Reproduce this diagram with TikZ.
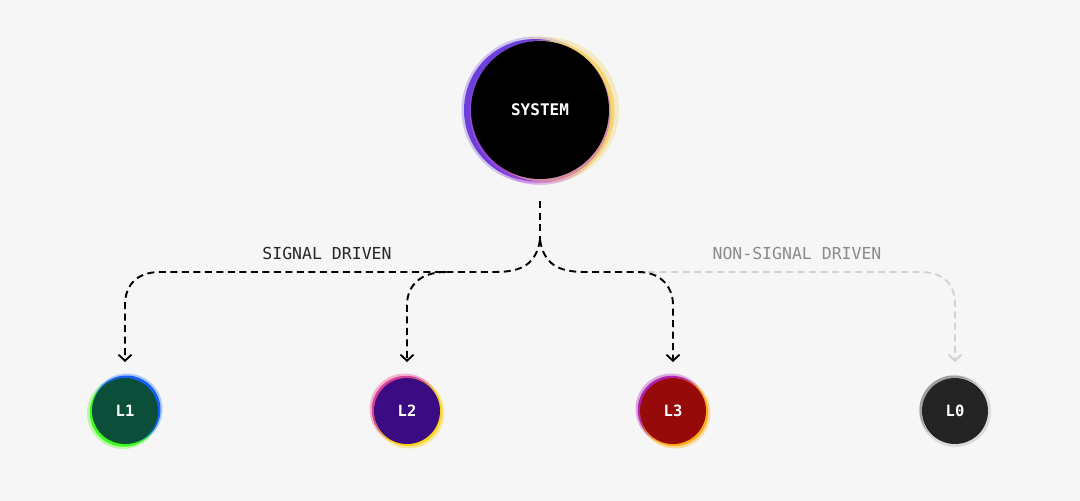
\documentclass[tikz,border=0pt]{standalone}
\usepackage{fontspec}
\usetikzlibrary{arrows.meta}
\newfontfamily\monof{DejaVu Sans Mono}
\definecolor{bg}{HTML}{F6F6F6}
\definecolor{lgreen}{HTML}{0B4F3A}
\definecolor{lpurple}{HTML}{3B0B84}
\definecolor{lred}{HTML}{960A0A}
\definecolor{lgray}{HTML}{242424}
\definecolor{linegray}{HTML}{D2D2D2}
\definecolor{labgray}{HTML}{8A8A8A}
\definecolor{rimviolet}{HTML}{5B2BD6}
\definecolor{rimyellow}{HTML}{F3D36A}
\definecolor{rimpink}{HTML}{C04FD8}
\tikzset{
  conn/.style={line width=1.9pt, dash pattern=on 7pt off 4.5pt, -{Straight Barb[length=6pt,width=13pt,line width=1.9pt]}},
  connplain/.style={line width=1.9pt, dash pattern=on 7pt off 4.5pt},
  level/.style={circle, minimum size=66pt, inner sep=0pt, text=white, font=\monof\bfseries\fontsize{15.5}{16}\selectfont},
  lab/.style={font=\monof\fontsize{16.5}{17}\selectfont},
}
\begin{document}
\begin{tikzpicture}[x=1pt,y=-1pt]
\fill[bg] (0,0) rectangle (1080,501);
\useasboundingbox (0,0) rectangle (1080,501);

% system rim (soft)
\fill[rimviolet, opacity=0.25] (535,110) circle (73.5);
\fill[rimyellow, opacity=0.35] (546,110) circle (73);
\fill[rimpink, opacity=0.35] (540,114) circle (71);
\fill[rimviolet, opacity=0.85] (535,110) circle (71);
\fill[rimyellow, opacity=0.9] (544,111) circle (70.5);
\fill[rimpink, opacity=0.5] (540,112) circle (70.5);
\node[circle, fill=black, minimum size=138pt, inner sep=0pt, text=white, font=\monof\bfseries\fontsize{16}{16}\selectfont] (sys) at (540,110) {SYSTEM};

% L1 rim
\fill[green!70!lime, opacity=0.3] (123,413) circle (36);
\fill[blue!60!cyan, opacity=0.3] (127,409) circle (35.5);
\fill[green!80!lime, opacity=0.85] (124,412.5) circle (34.2);
\fill[blue!70!cyan, opacity=0.85] (126.5,409.5) circle (34);
\node[level, fill=lgreen] (L1) at (125,411) {L1};

% L2 rim
\fill[magenta!80!orange, opacity=0.3] (405,409) circle (35.5);
\fill[yellow!70!orange, opacity=0.35] (409,413) circle (35.5);
\fill[magenta!70!violet, opacity=0.8] (405.8,409.8) circle (34);
\fill[yellow!70!orange, opacity=0.85] (408.2,412.2) circle (34);
\node[level, fill=lpurple] (L2) at (407,411) {L2};

% L3 rim
\fill[violet!70!magenta, opacity=0.3] (671,409) circle (35.5);
\fill[orange!70!yellow, opacity=0.35] (675,413) circle (35.5);
\fill[violet!70!magenta, opacity=0.8] (671.8,409.8) circle (34);
\fill[orange!70!yellow, opacity=0.85] (674.2,412.2) circle (34);
\node[level, fill=lred] (L3) at (673,411) {L3};

% L0 rim
\fill[gray!40, opacity=0.5] (955,411) circle (36);
\fill[gray!75] (953.8,409.8) circle (34.3);
\fill[gray!30] (956.2,412.2) circle (34.3);
\node[level, fill=lgray] (L0) at (955,411) {L0};

% coordinates
\coordinate (top) at (540,201);
\coordinate (j) at (540,240);
\coordinate (a1) at (125,362);
\coordinate (a2) at (407,362);
\coordinate (a3) at (673,362);
\coordinate (a0) at (955,362);
\coordinate (b2) at (446,272);
\coordinate (g0) at (648,272);

% gray branch
\draw[connplain, linegray, -{Straight Barb[length=6pt,width=13pt,line width=1.9pt]}]
  (g0) -- (920,272) .. controls (945,272) and (955,285) .. (955,305) -- (a0);

% black branches
\draw[connplain] (top) -- (j);
\draw[conn] (j) .. controls (536,264) and (522,272) .. (495,272) -- (160,272)
  .. controls (136,272) and (125,286) .. (125,305) -- (a1);
\draw[conn] (b2) .. controls (420,272) and (407,286) .. (407,305) -- (a2);
\draw[conn] (j) .. controls (544,264) and (558,272) .. (585,272) -- (638,272)
  .. controls (662,272) and (673,288) .. (673,305) -- (a3);

% labels
\node[lab, text=black!85] (sd) at (327,253) {SIGNAL DRIVEN};
\node[lab, text=labgray] (nsd) at (797,253) {NON-SIGNAL DRIVEN};
\end{tikzpicture}
\end{document}
